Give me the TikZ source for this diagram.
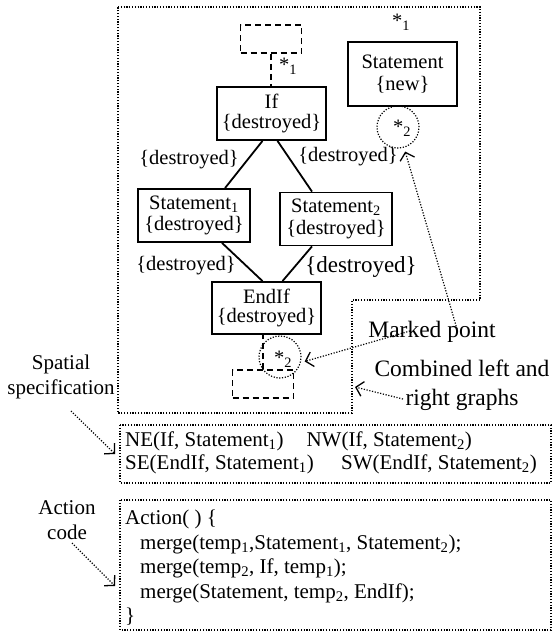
\documentclass[tikz,border=0pt]{standalone}
\usepackage{fontspec}
\setmainfont{Liberation Serif}
\usetikzlibrary{arrows.meta}
\newcommand{\fsz}[2]{\fontsize{#1}{#2}\selectfont}
\newcommand{\sbs}[1]{\textsubscript{#1}}
\begin{document}
\begin{tikzpicture}[x=1pt,y=-1pt,
  graphbox/.style={draw, line width=1.8pt, align=center, inner sep=0pt, font=\fsz{20.5}{19.5}},
  placeholder/.style={draw, line width=1.8pt, dash pattern=on 6pt off 4pt, inner sep=0pt,
    minimum width=61, minimum height=28},
  placelink/.style={line width=1.8pt, dash pattern=on 6pt off 4pt},
  edge/.style={line width=1.8pt},
  elabel/.style={font=\fsz{20.5}{20}, inner sep=0pt},
  markring/.style={draw, circle, line width=1.2pt, dash pattern=on 1.2pt off 1.6pt,
    minimum size=42, inner sep=0pt},
  star/.style={font=\fsz{20.5}{20}, inner sep=0pt},
  region/.style={line width=1.2pt, dash pattern=on 1.2pt off 1.6pt},
  pointer/.style={line width=1.2pt, dash pattern=on 1.2pt off 1.6pt,
    -{Straight Barb[length=7pt,width=15pt,line width=1.3pt]}},
  note/.style={font=\fsz{23.5}{29}, inner sep=0pt},
  side/.style={font=\fsz{21}{24}, inner sep=0pt},
  code/.style={font=\fsz{21}{24}, inner sep=0pt, anchor=base west},
]
\useasboundingbox (0,0) rectangle (555,633);
\fill[white] (0,0) rectangle (555,633);

% region holding the combined left and right graphs
\draw[region] (118,7) -- (480,7) -- (480,300) -- (352,300) -- (352,413) -- (118,413) -- cycle;

% left graph
\node[placeholder] (top) at (271,39) {};
\node[graphbox, minimum width=109, minimum height=53] (if) at (271.5,113.5) {If\\\{destroyed\}};
\node[graphbox, minimum width=112, minimum height=53, font=\fsz{20.5}{21.5}] (s1) at (194,215.5) {Statement\sbs{1}\\\{destroyed\}};
\node[graphbox, minimum width=112, minimum height=53, font=\fsz{20.5}{21.5}] (s2) at (336,219) {Statement\sbs{2}\\\{destroyed\}};
\node[graphbox, minimum width=109, minimum height=52] (endif) at (266.5,308) {EndIf\\\{destroyed\}};
\node[placeholder] (bot) at (263,384) {};

\draw[placelink] (top) -- (top |- if.north);
\draw[placelink] (bot.north) -- (bot.north |- endif.south);

\draw[edge] ([xshift=-9pt]if.south) -- ([xshift=31pt]s1.north);
\draw[edge] ([xshift=6pt]if.south) -- ([xshift=-24pt]s2.north);
\draw[edge] ([xshift=28pt]s1.south) -- ([xshift=-4pt]endif.north);
\draw[edge] ([xshift=-24pt]s2.south) -- ([xshift=16pt]endif.north);

\node[elabel] (l1) at (189,160) {\{destroyed\}};
\node[elabel] (l2) at (348,157) {\{destroyed\}};
\node[elabel] (l3) at (186,266) {\{destroyed\}};
\node[elabel, font=\fsz{23}{23}] (l4) at (361,267) {\{destroyed\}};

\node[star] (st1) at (288,66) {*\sbs{1}};
\node[markring] (m2) at (280,357) {};
\node[star] (st2) at (283,359) {*\sbs{2}};

% right graph
\node[star] (st3) at (401,22) {*\sbs{1}};
\node[graphbox, minimum width=109, minimum height=64, font=\fsz{20.5}{22}] (new) at (402.5,74) {Statement\\\{new\}};
\node[markring] (m1) at (398,127) {};
\node[star] (st4) at (402,128) {*\sbs{2}};

% annotations
\node[note] (mp) at (432,332) {Marked point};
\coordinate (mpA) at (457,329);
\coordinate (mpB) at (410,331);
\draw[pointer, shorten >=4pt] (mpA) -- (m1);
\draw[pointer, shorten >=4pt] (mpB) -- (m2.-15);

\node[note, align=center] (clg) at (462,385) {Combined left and\\right graphs};
\coordinate (clgA) at (403,399);
\coordinate (clgB) at (355,387);
\draw[pointer] (clgA) -- (clgB);

% spatial specification
\node[side] (ss1) at (61,364) {Spatial};
\node[side] (ss2) at (61,389) {specification};
\coordinate (ssA) at (71,411);
\coordinate (ssB) at (115,454);
\draw[pointer] (ssA) -- (ssB);
\draw[region] (120,425) rectangle (551,483);
\node[code] (sp1) at (125,446) {NE(If, Statement\sbs{1})\hspace{1.1em}NW(If, Statement\sbs{2})};
\node[code] (sp2) at (125,469) {SE(EndIf, Statement\sbs{1})\hspace{1.3em}SW(EndIf, Statement\sbs{2})};

% action code
\node[side] (ac1) at (67,508) {Action};
\node[side] (ac2) at (67,532) {code};
\coordinate (acA) at (72,543);
\coordinate (acB) at (115,586);
\draw[pointer] (acA) -- (acB);
\draw[region] (120,500) rectangle (551,630);
\node[code] (c0) at (125,524) {Action( ) \{};
\node[code] (c1) at (140,549) {merge(temp\sbs{1},Statement\sbs{1}, Statement\sbs{2});};
\node[code] (c2) at (140,573.5) {merge(temp\sbs{2}, If, temp\sbs{1});};
\node[code] (c3) at (140,598) {merge(Statement, temp\sbs{2}, EndIf);};
\node[code] (c4) at (125,622.5) {\}};
\end{tikzpicture}
\end{document}
